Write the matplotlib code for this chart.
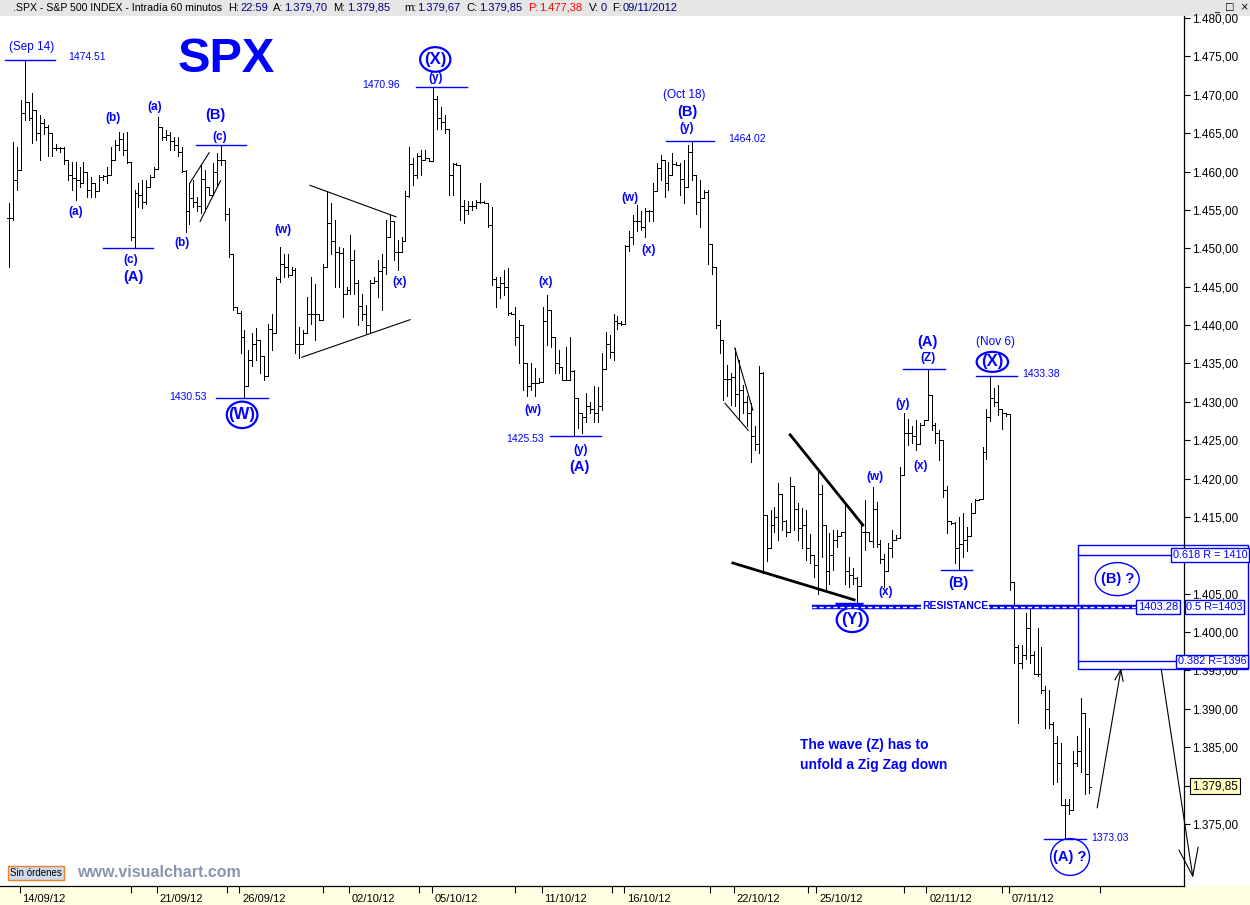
import matplotlib
matplotlib.use("Agg")
import matplotlib.pyplot as plt
import matplotlib.transforms as mtransforms
from matplotlib.collections import LineCollection
from matplotlib.patches import Ellipse, Rectangle

plt.rcParams['font.family'] = ['Liberation Sans', 'DejaVu Sans']

# SPX hourly bars, 13/09/12 (last 3 bars) to 09/11/12, 7 bars per day
highs = [
    1455.9, 1463.9, 1463.2,
    1469.3, 1474.5, 1469.1, 1470.2, 1468.0, 1467.4, 1466.9,
    1466.0, 1465.0, 1463.6, 1463.2, 1463.2, 1461.5, 1461.3,
    1461.3, 1460.6, 1461.3, 1460.0, 1459.3, 1458.5, 1459.5,
    1459.5, 1460.6, 1463.2, 1464.1, 1465.2, 1465.0, 1465.2,
    1461.3, 1457.6, 1458.5, 1458.9, 1458.9, 1459.5, 1460.6,
    1467.1, 1465.8, 1465.4, 1465.2, 1464.5, 1464.5, 1463.2,
    1460.2, 1458.5, 1458.9, 1456.7, 1461.0, 1460.2, 1458.0,
    1461.1, 1462.4, 1463.5, 1461.5, 1455.2, 1449.3, 1442.3,
    1441.8, 1439.3, 1436.7, 1438.9, 1439.6, 1438.0, 1436.0,
    1440.2, 1441.5, 1446.3, 1450.2, 1449.3, 1449.3, 1447.6,
    1447.4, 1439.8, 1439.3, 1443.7, 1446.3, 1445.4, 1441.5,
    1448.0, 1457.4, 1455.9, 1453.7, 1450.2, 1450.0, 1445.0,
    1451.7, 1449.8, 1445.9, 1444.1, 1442.6, 1445.9, 1446.3,
    1448.5, 1449.3, 1453.7, 1454.3, 1453.5, 1451.1, 1451.5,
    1457.4, 1463.2, 1461.7, 1462.4, 1462.8, 1462.8, 1461.8,
    1470.96, 1469.8, 1468.4, 1467.4, 1465.5, 1461.1, 1461.1,
    1460.9, 1456.3, 1456.1, 1456.1, 1456.3, 1458.5, 1456.1,
    1455.9, 1455.4, 1446.3, 1446.3, 1447.2, 1447.4, 1441.7,
    1442.4, 1440.7, 1440.0, 1435.0, 1435.0, 1434.4, 1433.1,
    1442.4, 1443.9, 1442.0, 1438.5, 1436.8, 1434.5, 1437.2,
    1438.5, 1434.1, 1430.5, 1428.5, 1431.1, 1430.0, 1432.0,
    1431.9, 1436.3, 1439.1, 1438.7, 1441.5, 1441.2, 1440.5,
    1450.4, 1452.2, 1454.3, 1455.6, 1454.8, 1455.2, 1455.0,
    1458.5, 1461.1, 1462.1, 1461.5, 1461.3, 1462.4, 1461.3,
    1461.1, 1461.5, 1463.5, 1464.02, 1459.5, 1458.9, 1457.6,
    1457.6, 1450.5, 1447.5, 1440.7, 1438.0, 1434.8, 1433.7,
    1437.0, 1435.4, 1432.2, 1430.7, 1429.8, 1426.8, 1434.6,
    1433.9, 1415.3, 1415.9, 1416.3, 1419.4, 1418.0, 1414.6,
    1420.2, 1419.0, 1416.8, 1416.1, 1415.9, 1412.8, 1410.0,
    1420.9, 1419.2, 1414.0, 1412.9, 1413.3, 1413.3, 1413.1,
    1416.8, 1409.8, 1408.3, 1407.2, 1414.2, 1417.2, 1413.0,
    1418.9, 1417.0, 1412.0, 1410.2, 1411.6, 1413.3, 1412.6,
    1421.5, 1428.5, 1427.8, 1426.8, 1427.6, 1427.2, 1427.6,
    1434.3, 1430.9, 1427.2, 1426.3, 1425.0, 1419.0, 1414.5,
    1414.4, 1415.0, 1415.5, 1413.7, 1416.8, 1417.4, 1417.4,
    1424.1, 1429.0, 1433.4, 1431.8, 1432.2, 1429.0, 1428.5,
    1428.4, 1406.5, 1398.3, 1398.3, 1402.5, 1403.1, 1397.5,
    1400.5, 1398.0, 1393.0, 1392.5, 1388.3, 1386.5, 1385.5,
    1378.2, 1378.2, 1384.5, 1386.5, 1391.4, 1389.5, 1387.5,
]
lows = [
    1447.6, 1453.7, 1457.6,
    1460.2, 1466.7, 1466.7, 1463.7, 1464.1, 1461.5, 1464.9,
    1462.0, 1462.0, 1462.8, 1462.6, 1461.0, 1458.9, 1457.6,
    1456.3, 1458.0, 1458.5, 1456.7, 1456.7, 1456.7, 1457.5,
    1458.9, 1458.5, 1459.5, 1461.5, 1462.8, 1462.2, 1461.1,
    1451.1, 1450.0, 1455.4, 1455.2, 1455.8, 1458.0, 1459.3,
    1460.3, 1464.1, 1464.1, 1462.8, 1462.8, 1462.0, 1459.9,
    1452.1, 1453.2, 1455.4, 1454.9, 1454.6, 1454.8, 1456.9,
    1456.9, 1458.2, 1460.8, 1453.7, 1448.9, 1442.0, 1441.6,
    1436.3, 1430.5, 1432.0, 1434.6, 1435.4, 1433.7, 1432.8,
    1433.3, 1436.7, 1439.0, 1445.6, 1446.3, 1446.3, 1446.5,
    1436.3, 1435.7, 1437.5, 1438.9, 1440.2, 1438.0, 1440.6,
    1440.7, 1447.5, 1449.3, 1445.0, 1445.0, 1441.1, 1444.0,
    1444.1, 1444.1, 1440.0, 1440.6, 1438.9, 1439.1, 1445.5,
    1443.7, 1442.0, 1446.7, 1451.5, 1448.5, 1447.2, 1449.5,
    1451.0, 1456.7, 1458.2, 1459.1, 1459.5, 1461.5, 1461.4,
    1461.4, 1465.6, 1465.6, 1465.0, 1456.9, 1456.9, 1460.9,
    1453.7, 1453.3, 1454.5, 1455.0, 1455.2, 1455.9, 1455.9,
    1452.8, 1445.2, 1442.4, 1443.5, 1443.9, 1441.3, 1441.5,
    1437.4, 1435.0, 1431.5, 1430.7, 1431.5, 1430.7, 1432.5,
    1432.6, 1437.4, 1437.2, 1433.7, 1433.7, 1432.8, 1432.8,
    1432.8, 1425.5, 1426.6, 1425.9, 1427.4, 1428.5, 1427.4,
    1427.4, 1428.9, 1434.3, 1435.7, 1435.5, 1439.5, 1440.0,
    1440.1, 1449.6, 1450.6, 1452.2, 1452.4, 1451.5, 1453.5,
    1453.5, 1457.5, 1458.9, 1456.7, 1457.6, 1459.5, 1460.8,
    1456.9, 1455.9, 1458.0, 1458.9, 1454.5, 1452.8, 1456.5,
    1448.0, 1446.7, 1439.6, 1436.3, 1430.2, 1430.7, 1429.6,
    1429.4, 1427.6, 1428.5, 1426.8, 1422.2, 1423.7, 1423.3,
    1407.7, 1409.2, 1411.0, 1413.0, 1412.0, 1413.3, 1412.5,
    1413.1, 1413.3, 1412.0, 1410.9, 1409.4, 1409.0, 1407.2,
    1405.0, 1409.8, 1405.3, 1406.3, 1408.1, 1411.1, 1412.5,
    1406.3, 1405.9, 1406.3, 1403.3, 1406.0, 1410.7, 1411.9,
    1411.1, 1411.1, 1409.0, 1405.9, 1408.0, 1409.8, 1412.0,
    1412.2, 1420.5, 1424.4, 1424.6, 1423.7, 1424.5, 1427.0,
    1427.6, 1426.3, 1424.6, 1422.4, 1417.6, 1412.9, 1414.1,
    1409.0, 1408.1, 1409.8, 1410.5, 1412.5, 1415.5, 1417.2,
    1417.3, 1422.6, 1427.5, 1429.4, 1428.3, 1426.5, 1428.1,
    1405.5, 1396.0, 1388.2, 1395.3, 1396.5, 1396.0, 1394.5,
    1394.3, 1392.0, 1387.5, 1387.5, 1380.2, 1380.5, 1377.5,
    1373.0, 1376.3, 1376.8, 1382.5, 1381.8, 1378.9, 1379.1,
]
closes = [
    1453.9, 1458.9, 1460.2,
    1467.6, 1469.1, 1467.0, 1468.0, 1465.0, 1466.3, 1465.8,
    1465.0, 1463.0, 1463.0, 1463.0, 1461.5, 1459.5, 1459.2,
    1458.9, 1458.5, 1460.0, 1457.6, 1458.5, 1457.5, 1459.3,
    1459.4, 1459.5, 1461.5, 1463.5, 1464.3, 1462.8, 1461.2,
    1451.5, 1457.2, 1457.0, 1456.0, 1458.0, 1459.3, 1460.3,
    1465.8, 1464.5, 1464.8, 1464.0, 1463.5, 1462.5, 1460.1,
    1454.8, 1456.5, 1456.0, 1455.5, 1459.0, 1458.0, 1456.9,
    1460.0, 1461.5, 1461.5, 1454.5, 1449.2, 1442.3, 1441.6,
    1438.5, 1432.0, 1435.5, 1437.5, 1438.0, 1436.0, 1433.3,
    1439.5, 1439.0, 1446.0, 1448.0, 1447.5, 1446.5, 1447.2,
    1437.5, 1437.5, 1439.0, 1441.5, 1441.5, 1441.5, 1440.7,
    1447.5, 1453.3, 1451.0, 1449.5, 1449.4, 1444.0, 1444.5,
    1448.5, 1445.5, 1442.5, 1441.5, 1440.0, 1445.5, 1445.8,
    1447.0, 1447.5, 1451.5, 1453.5, 1449.5, 1449.5, 1451.0,
    1456.8, 1461.0, 1459.5, 1462.0, 1461.5, 1461.8, 1461.4,
    1469.5, 1467.0, 1466.5, 1465.5, 1459.5, 1461.0, 1460.9,
    1455.5, 1455.0, 1455.5, 1455.5, 1456.0, 1456.0, 1455.9,
    1453.0, 1446.0, 1445.0, 1445.5, 1445.0, 1441.6, 1441.5,
    1438.5, 1440.0, 1435.0, 1432.0, 1432.5, 1432.5, 1432.6,
    1440.5, 1442.0, 1438.5, 1435.0, 1434.5, 1432.9, 1432.8,
    1434.0, 1430.5, 1428.5, 1428.0, 1429.5, 1429.0, 1428.6,
    1429.5, 1434.3, 1437.5, 1436.5, 1440.5, 1440.3, 1440.1,
    1450.3, 1451.5, 1453.5, 1453.5, 1452.8, 1454.8, 1454.9,
    1457.5, 1460.5, 1461.5, 1458.5, 1459.5, 1461.0, 1460.9,
    1459.0, 1458.0, 1462.5, 1459.5, 1456.0, 1456.5, 1457.3,
    1450.5, 1447.5, 1440.0, 1438.0, 1433.0, 1433.0, 1433.2,
    1431.0, 1431.5, 1430.0, 1428.5, 1425.5, 1424.5, 1433.8,
    1415.3, 1411.0, 1414.0, 1415.0, 1418.0, 1414.5, 1413.1,
    1419.0, 1416.0, 1413.5, 1414.0, 1411.0, 1410.0, 1408.8,
    1418.0, 1414.0, 1408.0, 1410.0, 1412.0, 1412.5, 1413.0,
    1408.0, 1407.5, 1407.0, 1406.0, 1413.0, 1413.0, 1411.9,
    1416.0, 1411.5, 1409.5, 1408.0, 1411.0, 1412.0, 1412.2,
    1420.5, 1426.0, 1426.0, 1425.5, 1424.5, 1427.0, 1427.6,
    1430.9, 1427.0, 1426.0, 1425.0, 1418.5, 1414.5, 1414.2,
    1411.0, 1411.5, 1412.0, 1412.5, 1415.5, 1417.2, 1417.3,
    1423.5, 1428.0, 1430.5, 1430.0, 1429.0, 1428.5, 1428.4,
    1406.5, 1398.0, 1396.0, 1397.0, 1400.5, 1397.0, 1394.5,
    1394.5, 1392.5, 1390.0, 1388.0, 1385.5, 1383.0, 1377.5,
    1377.5, 1376.8, 1383.0, 1384.5, 1389.5, 1381.5, 1379.85,
]

day_labels = ['14/09/12', '21/09/12', '26/09/12', '02/10/12', '05/10/12', '11/10/12',
              '16/10/12', '22/10/12', '25/10/12', '02/11/12', '07/11/12']
day_first_bar = [3, 38, 59, 87, 108, 136, 157, 185, 206, 234, 255]
minor_tick_bars = [31, 55.5, 80, 104.5, 129, 153.5, 178.5, 203.5, 228, 253, 278]
price_ticks = list(range(1375, 1485, 5))

BLUE = '#0000ff'
W, H = 1250, 905
fig = plt.figure(figsize=(W / 100, H / 100), dpi=100)
fig.patch.set_facecolor('white')

# plot area in pixels (left, right, top, bottom)
PL, PR, PT, PB = 0, 1184, 16, 886
ax = fig.add_axes([PL / W, 1 - PB / H, (PR - PL) / W, (PB - PT) / H])
ax.set_xlim((PL - 8.9) / 3.926, (PR - 8.9) / 3.926)
ax.set_ylim(1480 - (PB - 18) / 7.676, 1480 - (PT - 18) / 7.676)

# header band and date band
fig.add_artist(Rectangle((0, 1 - PT / H), 1, PT / H, transform=fig.transFigure,
                         fc='#e6e6e6', ec='none', zorder=-1))
fig.add_artist(Rectangle((0, 0), 1, 1 - PB / H, transform=fig.transFigure,
                         fc='#ffffe1', ec='none', zorder=-1))

fig.text(13 / W, 1 - 8 / H, '.SPX - S&P 500 INDEX - Intradía 60 minutos', fontsize=7.6,
         va='center')
header = [(228, 'H:', 'black'), (240, '22:59', '#000080'),
          (273, 'A:', 'black'), (284, '1.379,70', '#000080'),
          (333, 'M:', 'black'), (347, '1.379,85', '#000080'),
          (404, 'm:', 'black'), (417, '1.379,67', '#000080'),
          (466, 'C:', 'black'), (479, '1.379,85', '#000080'),
          (528, 'P:', 'red'), (539, '1.477,38', 'red'),
          (589, 'V:', 'black'), (601, '0', '#000080'),
          (612, 'F:', 'black'), (623, '09/11/2012', '#000080')]
for hx, s, c in header:
    fig.text(hx / W, 1 - 8 / H, s, color=c, fontsize=8, va='center')
fig.text(1214 / W, 1 - 8 / H, '_  \u25a1  \u00d7', fontsize=7, va='center',
         family=['DejaVu Sans'])

# OHLC bars (open taken as previous close)
opens = [closes[0]] + closes[:-1]
segs = []
for i in range(len(closes)):
    segs.append([(i, lows[i]), (i, highs[i])])
    segs.append([(i - 0.5, opens[i]), (i, opens[i])])
    segs.append([(i, closes[i]), (i + 0.5, closes[i])])
ax.add_collection(LineCollection(segs, colors='black', linewidths=0.55, antialiased=False))

# axes styling
for side in ['left', 'top']:
    ax.spines[side].set_visible(False)
ax.spines['right'].set_linewidth(0.9)
ax.spines['bottom'].set_linewidth(0.9)
ax.yaxis.tick_right()
ax.set_yticks(price_ticks)
# the 1.410 label sits under the 0.618 box in the original
ax.set_yticklabels(['' if v == 1410 else
                    f"{v:,.2f}".replace(',', 'X').replace('.', ',').replace('X', '.')
                    for v in price_ticks])
ax.tick_params(axis='y', direction='out', length=4, width=0.8, pad=2, labelsize=8.5)
ax.set_xticks([b - 0.3 for b in day_first_bar])
ax.set_xticklabels(day_labels)
ax.set_xticks(minor_tick_bars, minor=True)
ax.tick_params(axis='x', which='both', direction='out', length=5, width=0.8, pad=1, labelsize=8)
shift = mtransforms.ScaledTranslation(2 / 72, 0, fig.dpi_scale_trans)
for lab in ax.get_xticklabels():
    lab.set_horizontalalignment('left')
    lab.set_transform(lab.get_transform() + shift)

# title
ax.text(55.4, 1473.0, 'SPX', color=BLUE, fontsize=35, fontweight='bold',
        ha='center', va='baseline')


def wave(s, x, y, size=8.5):
    ax.text(x, y, s, color=BLUE, fontsize=size, fontweight='bold',
            ha='center', va='center', clip_on=False)


def circled(s, x, y, w, h):
    ax.add_patch(Ellipse((x, y), w, h, fill=False, ec=BLUE, lw=1.6))
    ax.text(x, y, s, color=BLUE, fontsize=12, fontweight='bold', ha='center', va='center')


def level(y, x0, x1, lw=1.0):
    ax.plot([x0, x1], [y, y], color=BLUE, lw=lw, clip_on=False)


def price_lbl(s, x, y, ha='left'):
    ax.text(x, y, s, color=BLUE, fontsize=7.5, ha=ha, va='center', clip_on=False)


# small wave labels
for s, x, y in [('(a)', 16.9, 1454.7), ('(b)', 26.5, 1467.0), ('(a)', 37.2, 1468.4),
                ('(b)', 44.1, 1450.7), ('(c)', 31.1, 1448.5), ('(c)', 53.8, 1464.5),
                ('(w)', 69.8, 1452.4), ('(x)', 99.4, 1445.6), ('(y)', 108.7, 1472.2),
                ('(x)', 136.8, 1445.6), ('(w)', 133.5, 1428.9), ('(y)', 145.5, 1423.7),
                ('(w)', 158.2, 1456.55), ('(x)', 163.0, 1449.8), ('(y)', 172.6, 1465.7),
                ('(w)', 220.6, 1420.2), ('(x)', 223.4, 1405.2), ('(y)', 227.7, 1429.7),
                ('(x)', 232.3, 1421.6), ('(Z)', 234.1, 1435.7)]:
    wave(s, x, y)
for s, x, y in [('(A)', 31.6, 1446.3), ('(B)', 52.7, 1467.4), ('(A)', 145.2, 1421.5),
                ('(B)', 172.7, 1467.75), ('(A)', 233.9, 1437.8), ('(B)', 241.9, 1406.4)]:
    wave(s, x, y, size=10.5)

ax.text(5.9, 1476.2, '(Sep 14)', color=BLUE, fontsize=8.5, ha='center', va='center')
ax.text(172.0, 1470.0, '(Oct 18)', color=BLUE, fontsize=8.5, ha='center', va='center')
ax.text(251.2, 1437.8, '(Nov 6)', color=BLUE, fontsize=8.5, ha='center', va='center')

circled('(W)', 59.4, 1428.3, 7.8, 3.45)
circled('(X)', 108.6, 1474.6, 7.7, 3.2)
circled('(Y)', 214.8, 1401.6, 7.9, 3.2)
circled('(X)', 250.5, 1435.2, 8.0, 2.6)

# extreme levels
level(1474.51, -1.0, 11.7)
level(1463.45, 47.7, 60.4)
level(1450.0, 24.0, 36.7)
level(1430.53, 52.75, 66.0)
level(1470.96, 103.7, 116.6)
level(1425.53, 137.8, 150.8)
level(1464.02, 167.4, 179.6)
level(1434.3, 227.8, 238.4)
level(1408.13, 237.3, 245.2)
level(1433.38, 246.3, 256.7)
level(1373.03, 263.7, 274.4)
price_lbl('1474.51', 15.05, 1474.9)
price_lbl('1430.53', 50.5, 1430.6, ha='right')
price_lbl('1470.96', 99.6, 1471.3, ha='right')
price_lbl('1425.53', 136.2, 1425.2, ha='right')
price_lbl('1464.02', 183.1, 1464.2)
price_lbl('1433.38', 258.1, 1433.6)
price_lbl('1373.03', 275.8, 1373.2)

# resistance line
ax.plot([204.5, 287.6], [1403.28, 1403.28], color=BLUE, lw=3.2, solid_capstyle='butt')
ax.plot([204.5, 287.6], [1403.28, 1403.28], color='white', lw=1.0, ls=(0, (3, 2)))
ax.plot([210.5, 217.5], [1403.6, 1403.6], color=BLUE, lw=2.5, solid_capstyle='butt')
ax.text(241.0, 1403.4, 'RESISTANCE', color=BLUE, fontsize=7.5, fontweight='bold',
        ha='center', va='center', bbox=dict(boxstyle='square,pad=0.1', fc='white', ec='none'))

# pattern lines
for (x0, y0), (x1, y1), lw in [((46.1, 1458.5), (51.0, 1462.45), 0.8),
                               ((48.7, 1453.5), (53.9, 1458.8), 0.8),
                               ((76.7, 1458.2), (98.6, 1454.1), 0.8),
                               ((74.6, 1435.8), (102.2, 1440.7), 0.8),
                               ((184.9, 1437.0), (189.5, 1428.9), 0.8),
                               ((182.4, 1429.8), (188.3, 1426.3), 0.8),
                               ((199.0, 1425.7), (217.5, 1413.95), 2.0),
                               ((184.4, 1409.0), (215.3, 1404.2), 2.0)]:
    ax.plot([x0, x1], [y0, y1], color='black', lw=lw)

ax.text(201.5, 1384.0, 'The wave (Z) has to\nunfold a Zig Zag down', color=BLUE,
        fontsize=10, fontweight='bold', ha='left', va='center', linespacing=1.5)

# fibonacci box
ax.add_patch(Rectangle((272.3, 1395.19), 315.6 - 272.3, 1411.34 - 1395.19, fill=False,
                       ec=BLUE, lw=1.0, clip_on=False))
level(1410.04, 272.3, 296.5)
level(1396.2, 272.3, 297.8)
box = dict(boxstyle='square,pad=0.15', fc='white', ec=BLUE, lw=1.0)
for s, x, y, fs in [('0.618 R = 1410', 296.5, 1410.04, 7.8), ('0.5 R=1403', 299.9, 1403.28, 7.8),
                    ('0.382 R=1396', 297.8, 1396.2, 7.8), ('1403.28', 287.6, 1403.28, 8)]:
    ax.text(x, y, s, color=BLUE, fontsize=fs, ha='left', va='center', bbox=box,
            clip_on=False, zorder=5)

ax.add_patch(Ellipse((282.3, 1406.9), 11.2, 4.3, fill=False, ec=BLUE, lw=1.0))
ax.text(282.3, 1406.9, '(B) ?', color=BLUE, fontsize=10.5, fontweight='bold',
        ha='center', va='center')
ax.add_patch(Ellipse((270.3, 1370.7), 9.9, 4.8, fill=False, ec=BLUE, lw=1.0))
ax.text(270.3, 1370.7, '(A) ?', color=BLUE, fontsize=10.5, fontweight='bold',
        ha='center', va='center')

# projection arrows
a1 = ax.annotate('', xy=(283.3, 1395.3), xytext=(277.2, 1377.1), annotation_clip=False,
                 arrowprops=dict(arrowstyle='->,head_length=0.8,head_width=0.3',
                                 color='black', lw=0.8, shrinkA=0, shrinkB=0))
a2 = ax.annotate('', xy=(301.6, 1368.0), xytext=(293.5, 1395.2), annotation_clip=False,
                 arrowprops=dict(arrowstyle='->,head_length=2.0,head_width=0.7',
                                 color='black', lw=0.8, shrinkA=0, shrinkB=0))
a1.arrow_patch.set_clip_on(False)
a2.arrow_patch.set_clip_on(False)

# current price tag
fig.text(1192 / W, 1 - 786 / H, '1.379,85', fontsize=8.5, va='center',
         bbox=dict(boxstyle='square,pad=0.15', fc='#ffffc0', ec='black', lw=0.8))

# bottom-left widgets
fig.text(10 / W, 1 - 873 / H, 'Sin órdenes', fontsize=7, va='center',
         bbox=dict(boxstyle='square,pad=0.25', fc='#cfdaee', ec='#f08020', lw=1.0))
fig.text(77 / W, 1 - 872 / H, 'www.visualchart.com', fontsize=11.5, fontweight='bold',
         color='#8a94b0', va='center')

fig.savefig('out.png', dpi=100)
